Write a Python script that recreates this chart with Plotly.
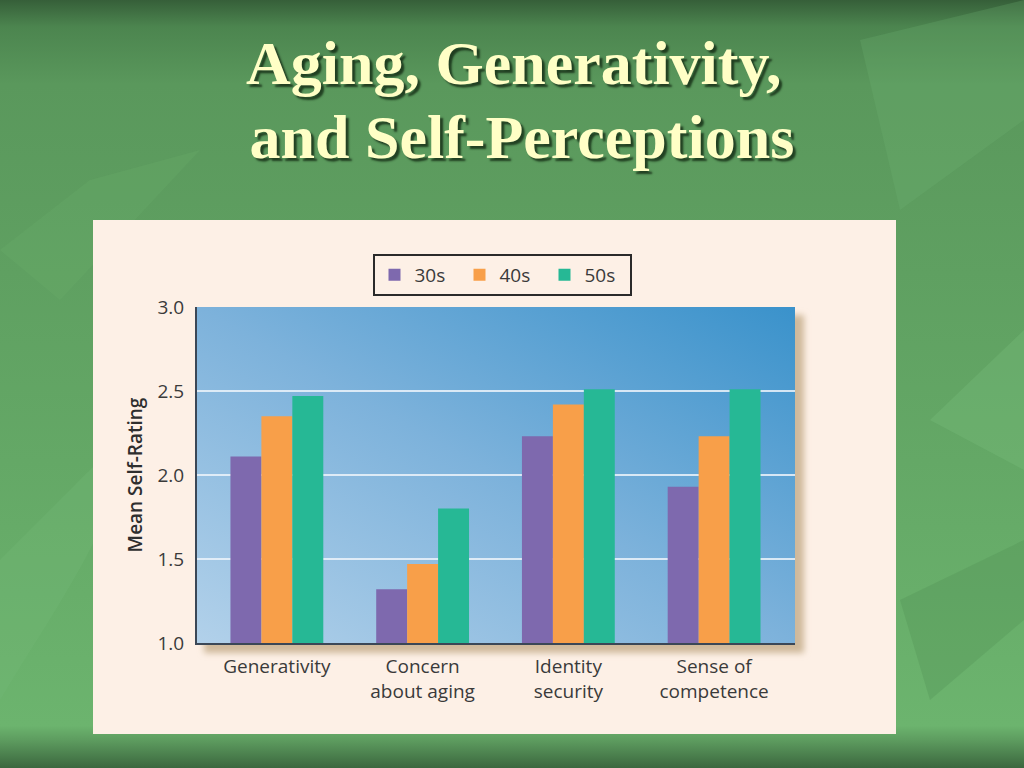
import base64
import plotly.graph_objects as go

# ---------------- data ----------------
categories = ["Generativity", "Concern<br>about aging", "Identity<br>security", "Sense of<br>competence"]
series_names = ["30s", "40s", "50s"]
values_30s = [2.11, 1.32, 2.23, 1.93]
values_40s = [2.35, 1.47, 2.42, 2.23]
values_50s = [2.47, 1.80, 2.51, 2.51]
y_ticks = [1.0, 1.5, 2.0, 2.5, 3.0]
title_lines = ["Aging, Generativity,", " and Self-Perceptions"]
y_title = "Mean Self-Rating"

# ---------------- style ----------------
W, H = 1024, 768
ML, MR, MT, MB = 197, 229, 307, 125
PW, PH = W - ML - MR, H - MT - MB
bar_colors = ["#7e69ae", "#f89f49", "#26b895"]
panel_color = "#fdf0e6"
text_color = "#3a3a3a"
font_sans = "Open Sans"

# background artwork (slide, panel, plot-area gradient) as an SVG image
svg = f"""<svg xmlns='http://www.w3.org/2000/svg' width='{W}' height='{H}' viewBox='0 0 {W} {H}'>
<defs>
<linearGradient id='bg' x1='0' y1='0' x2='0' y2='1'>
<stop offset='0' stop-color='#365f39'/>
<stop offset='0.035' stop-color='#4c854f'/>
<stop offset='0.11' stop-color='#5a985c'/>
<stop offset='0.6' stop-color='#64a866'/>
<stop offset='0.945' stop-color='#6cb46e'/>
<stop offset='0.965' stop-color='#5c9a5e'/>
<stop offset='1' stop-color='#3b673e'/>
</linearGradient>
<linearGradient id='pa' x1='0' y1='1' x2='1' y2='0'>
<stop offset='0' stop-color='#b2d1ea'/>
<stop offset='0.5' stop-color='#7db2db'/>
<stop offset='1' stop-color='#3a92cb'/>
</linearGradient>
<filter id='bl' x='-10%' y='-10%' width='120%' height='120%'><feGaussianBlur stdDeviation='3'/></filter>
</defs>
<rect x='0' y='0' width='{W}' height='{H}' fill='url(#bg)'/>
<path d='M0,700 C60,600 120,520 130,430 C90,470 40,520 0,560 Z' fill='#74b876' opacity='0.35'/>
<path d='M930,420 L1024,330 L1024,470 Z' fill='#78bd7a' opacity='0.35'/>
<path d='M900,600 L1024,540 L1024,620 L930,700 Z' fill='#4f8f52' opacity='0.3'/>
<path d='M860,40 L1024,0 L1024,120 L900,210 Z' fill='#70b372' opacity='0.25'/>
<path d='M0,250 L90,180 L200,150 L60,300 Z' fill='#6aae6c' opacity='0.25'/>
<rect x='93' y='220' width='803' height='514' fill='{panel_color}'/>
<rect x='{ML + 7}' y='{MT + 8}' width='{PW + 2}' height='{PH + 2}' fill='#cfb99b' filter='url(#bl)'/>
<rect x='{ML}' y='{MT}' width='{PW}' height='{PH}' fill='url(#pa)'/>
</svg>"""
bg_uri = "data:image/svg+xml;base64," + base64.b64encode(svg.encode()).decode()

fig = go.Figure()
for name, vals, col in zip(series_names, [values_30s, values_40s, values_50s], bar_colors):
    fig.add_trace(go.Bar(name=name, x=categories, y=vals, marker=dict(color=col, line=dict(width=0)),
                         hoverinfo="x+y+name"))

fig.add_layout_image(dict(source=bg_uri, xref="paper", yref="paper",
                          x=-ML / PW, y=1 + MT / PH, sizex=W / PW, sizey=H / PH,
                          xanchor="left", yanchor="top", sizing="stretch", layer="below"))

title_font = dict(family="Liberation Serif", size=62, color="#ffffc6", weight="bold",
                  shadow="3px 3px 2px rgba(15,35,15,0.75)")
for line, ypix in zip(title_lines, [63, 137]):
    fig.add_annotation(text=line, xref="paper", yref="paper", x=(514 - ML) / PW,
                       y=(H - MB - ypix) / PH, xanchor="center", yanchor="middle",
                       showarrow=False, font=title_font)

fig.update_layout(
    width=W, height=H, autosize=False,
    margin=dict(l=ML, r=MR, t=MT, b=MB, pad=0),
    paper_bgcolor="#5a985c", plot_bgcolor="rgba(0,0,0,0)",
    barmode="group", bargap=0.363, bargroupgap=0,
    font=dict(family=font_sans, color=text_color),
    showlegend=True,
    legend=dict(orientation="h", x=(502 - ML) / PW, y=(H - MB - 275) / PH,
                xanchor="center", yanchor="middle",
                bgcolor=panel_color, bordercolor="#2a2a2a", borderwidth=2,
                entrywidth=40, entrywidthmode="pixels",
                font=dict(family=font_sans, size=19, color=text_color),
                itemclick=False, itemdoubleclick=False),
    xaxis=dict(range=[-0.548, 3.555], showgrid=False, showline=True, linecolor="#3b4756",
               linewidth=2, ticks="", ticklabelstandoff=5, automargin=False,
               tickfont=dict(family=font_sans, size=19, color=text_color)),
    yaxis=dict(range=[1, 3], tickvals=y_ticks, tickformat=".1f", showgrid=True,
               gridcolor="rgba(236,243,250,0.85)", gridwidth=2, zeroline=False,
               showline=True, linecolor="#3b4756", linewidth=2, ticks="",
               ticklabelstandoff=7, automargin=False,
               tickfont=dict(family=font_sans, size=19, color=text_color),
               title=dict(text=y_title, standoff=10,
                          font=dict(family=font_sans, size=19, color="#2e2e2e", weight=600))),
)

fig.write_html("out.html", config={"displayModeBar": False},
               post_script="document.body.style.margin='0';")
